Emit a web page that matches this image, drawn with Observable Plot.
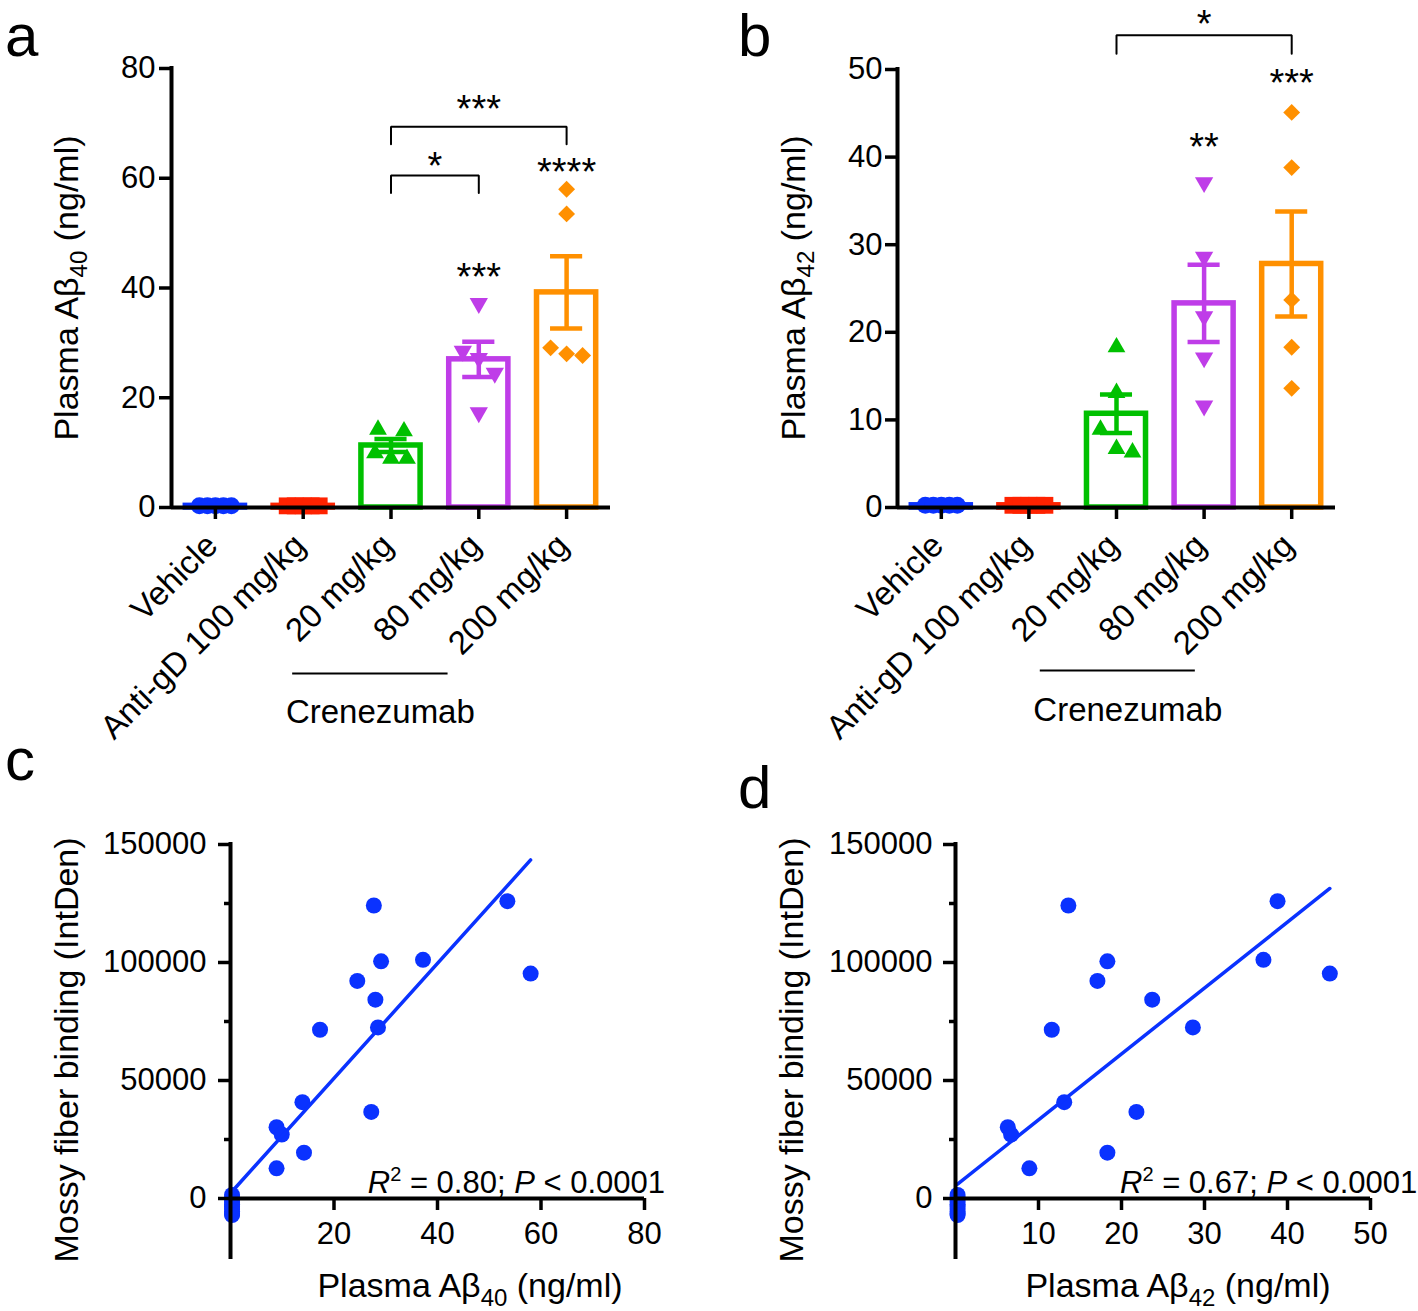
<!DOCTYPE html>
<html><head><meta charset="utf-8">
<script src="https://cdn.jsdelivr.net/npm/d3@7"></script>
<script src="https://cdn.jsdelivr.net/npm/@observablehq/plot@0.6"></script>
<style>
body{margin:0;background:#fff;}
#fig{position:relative;width:1418px;height:1311px;overflow:hidden;background:#fff;}
.panel{position:absolute;}
.panel svg{overflow:visible;max-width:none;}
</style></head><body><div id="fig"></div>
<script>
// ---------- data ----------
const groups = ["Vehicle", "Anti-gD 100 mg/kg", "20 mg/kg", "80 mg/kg", "200 mg/kg"];
const groupColors = ["#0a32ff", "#ff2200", "#00c000", "#bf3de8", "#ff9000"];
// one entry per animal
const animalGroup = [0,0,0,0,0, 1,1,1,1,1, 2,2,2,2,2, 3,3,3,3,3, 4,4,4,4,4];
const plasmaAb40 = [0.3,0.3,0.3,0.3,0.3, 0.3,0.3,0.3,0.3,0.3,
                    13.9,14.2,8.9,9.9,8.9, 37.2,28.5,27.2,24.5,17.3, 27.7,53.5,58.0,29.1,28.0];
const plasmaAb42 = [0.25,0.25,0.25,0.25,0.25, 0.25,0.25,0.25,0.25,0.25,
                    13.1,18.3,6.3,6.7,8.9, 37.1,28.6,21.8,17.1,11.6, 13.6,38.8,45.1,18.3,23.7];
const mossyBinding = [1500,-500,-2500,-4500,-6500, 500,-1500,-3500,-5500,-7000,
                      40800,19400,30200,27100,12800, 101140,72500,36700,92200,71500,
                      124150,126000,95300,100500,84250];
// group means and SEM
const meanAb40 = [0.3, 0.3, 11.3, 27.0, 39.2];
const semAb40  = [0.05, 0.05, 1.2, 3.2, 6.6];
const meanAb42 = [0.25, 0.25, 10.7, 23.3, 27.8];
const semAb42  = [0.05, 0.05, 2.2, 4.4, 6.0];
// significance
const sigTextA = ["***", "****"];   const sigGroupA = [3, 4]; const sigLevelA = [39.7, 58.7];
const sigTextB = ["**", "***"];     const sigGroupB = [3, 4]; const sigLevelB = [39.7, 47.0];
const bracketsA = [{from: 2, to: 4, level: 69.4, leg: 66.2, text: "***", textLevel: 70.3},
                   {from: 2, to: 3, level: 60.5, leg: 57.3, text: "*", textLevel: 59.8}];
const bracketsB = [{from: 2, to: 4, level: 53.9, leg: 51.8, text: "*", textLevel: 53.75}];
const r2TextC = "0.80", r2TextD = "0.67";

// ---------- helpers ----------
const FONT = "'Liberation Sans', Arial, Helvetica, sans-serif";
const triangleDown = {
  draw(context, size) {
    const s3 = Math.sqrt(3);
    const y = -Math.sqrt(size / (s3 * 3));
    context.moveTo(0, -y * 2);
    context.lineTo(-s3 * y, y);
    context.lineTo(s3 * y, y);
    context.closePath();
  }
};
const groupSymbols = ["circle", "square", "triangle", triangleDown, "diamond2"];
const groupR = [8.5, 9.5, 6.6, 6.8, 7.6];

function dodgeOffsets(values, pxPerUnit, thresholdPx = 21) {
  const idx = d3.range(values.length).sort((a, b) => values[b] - values[a]);
  const off = new Array(values.length).fill(0);
  let cluster = [idx[0]];
  const flush = () => {
    const n = cluster.length;
    if (n > 1) {
      const sp = Math.min(26, 32 / (n - 1));
      cluster.forEach((j, k) => off[j] = (k - (n - 1) / 2) * sp);
    }
  };
  for (let k = 1; k < idx.length; k++) {
    if ((values[idx[k - 1]] - values[idx[k]]) * pxPerUnit < thresholdPx) cluster.push(idx[k]);
    else { flush(); cluster = [idx[k]]; }
  }
  flush();
  return off;
}

function addRich(svg, x, y, parts, opts = {}) {
  const t = d3.select(svg).append("text")
    .attr("font-family", FONT).attr("font-size", opts.size || 34).attr("fill", "black")
    .attr("text-anchor", opts.anchor || "middle");
  if (opts.rotate) t.attr("transform", `translate(${x},${y}) rotate(${opts.rotate})`);
  else t.attr("x", x).attr("y", y);
  parts.forEach(p => {
    const s = t.append("tspan").text(p.t);
    if (p.size) s.attr("font-size", p.size);
    if (p.dy) s.attr("dy", p.dy);
    if (p.italic) s.attr("font-style", "italic");
  });
  return t;
}

function mount(svg, left, top) {
  const div = document.createElement("div");
  div.className = "panel";
  div.style.left = left + "px"; div.style.top = top + "px";
  div.appendChild(svg);
  document.getElementById("fig").appendChild(div);
}

const TICK = 12, AX = 4, TW = 3.5;

function barPanel(cfg) {
  const {left, top, W, H, ML, MR, MT, MB, yMax, yTicks, values, means, sems,
         sigText, sigGroup, sigLevel, brackets, cren, labelDx, sub, titleX, titleY, letter, letterX} = cfg;
  const frameW = W - ML - MR, frameH = H - MT - MB;
  const pxPerCat = frameW / 5, pxPerUnit = frameH / yMax;
  const bars = groups.map((g, i) => ({i, mean: means[i], sem: sems[i], color: groupColors[i]}));
  const pts = [];
  groups.forEach((g, gi) => {
    const ids = d3.range(animalGroup.length).filter(k => animalGroup[k] === gi);
    const vals = ids.map(k => values[k]);
    const off = dodgeOffsets(vals, pxPerUnit);
    ids.forEach((k, j) => pts.push({gi, v: vals[j], x: gi + off[j] / pxPerCat}));
  });
  const bracketPts = brackets.flatMap((b, bi) => [
    {b: bi, x: b.from, y: b.leg}, {b: bi, x: b.from, y: b.level},
    {b: bi, x: b.to, y: b.level}, {b: bi, x: b.to, y: b.leg}]);
  const pxY = px => -px / pxPerUnit; // offset below the x axis in data units
  const marks = [
    Plot.rect(bars, {x1: d => d.i - 0.337, x2: d => d.i + 0.337, y1: 0, y2: "mean",
      fill: "white", stroke: "color", strokeWidth: 5.5, strokeLinejoin: "miter"}),
    ...groups.map((g, gi) => Plot.dot(pts.filter(p => p.gi === gi),
      {x: "x", y: "v", symbol: groupSymbols[gi], r: groupR[gi], fill: groupColors[gi]})),
    Plot.ruleX(bars, {x: "i", y1: d => d.mean - d.sem, y2: d => d.mean + d.sem, stroke: "color", strokeWidth: 4.5}),
    Plot.ruleY(bars, {y: d => d.mean + d.sem, x1: d => d.i - 0.183, x2: d => d.i + 0.183, stroke: "color", strokeWidth: 4.5}),
    Plot.ruleY(bars, {y: d => d.mean - d.sem, x1: d => d.i - 0.183, x2: d => d.i + 0.183, stroke: "color", strokeWidth: 4.5}),
    // axes
    Plot.ruleY([0], {stroke: "black", strokeWidth: AX}),
    Plot.ruleX([-0.5], {y1: 0, y2: yMax, stroke: "black", strokeWidth: AX, strokeLinecap: "square"}),
    Plot.tickY(yTicks, {y: d => d, insetRight: frameW - TICK, dx: -TICK, stroke: "black", strokeWidth: TW}),
    Plot.tickX(d3.range(groups.length), {x: d => d, insetTop: frameH - TICK, dy: TICK, stroke: "black", strokeWidth: TW}),
    Plot.text(yTicks, {y: d => d, text: d => String(d), frameAnchor: "left", textAnchor: "end", dx: labelDx, fontSize: 31}),
    Plot.text(groups, {x: (d, i) => i, text: d => d, frameAnchor: "bottom", rotate: -45,
      textAnchor: "end", lineAnchor: "bottom", dx: 4, dy: 40, fontSize: 33}),
    // crenezumab grouping line
    Plot.ruleY([pxY(cren.px)], {x1: cren.from, x2: cren.to, stroke: "black", strokeWidth: 2}),
    Plot.text(["Crenezumab"], {x: (cren.from + cren.to) / 2, frameAnchor: "bottom", dx: 10, dy: cren.textPx, fontSize: 33, lineAnchor: "middle"}),
    // significance
    Plot.line(bracketPts, {x: "x", y: "y", z: "b", stroke: "black", strokeWidth: 2, strokeLinejoin: "miter"}),
    Plot.text(brackets, {x: d => (d.from + d.to) / 2, y: "textLevel", text: "text", fontSize: 38, lineAnchor: "bottom"}),
    Plot.text(sigText, {x: (d, i) => sigGroup[i], y: (d, i) => sigLevel[i], text: d => d, fontSize: 38, lineAnchor: "bottom"})
  ];
  const svg = Plot.plot({
    width: W, height: H, marginLeft: ML, marginRight: MR, marginTop: MT, marginBottom: MB,
    x: {domain: [-0.5, 4.5], axis: null}, y: {domain: [0, yMax], axis: null},
    color: {type: "identity"},
    style: {fontFamily: FONT, background: "transparent", overflow: "visible"},
    marks
  });
  addRich(svg, titleX - left, titleY - top,
    [{t: "Plasma A\u03b2"}, {t: sub, size: 24, dy: 9}, {t: " (ng/ml)", dy: -9}],
    {rotate: -90, size: 34});
  addRich(svg, letterX - left, 56 - top, [{t: letter}], {size: 60, anchor: "start"});
  mount(svg, left, top);
}

function scatterPanel(cfg) {
  const {left, top, W, H, ML, MR, MT, MB, xValues, xMax, xTicks, labelDx, sub,
         yTitleX, xTitleX, letter, letterX, letterY, r2, r2X, r2Anchor} = cfg;
  const frameW = W - ML - MR, frameH = H - MT - MB;
  const yMax = 150000;
  const yMajor = [0, 50000, 100000, 150000], yMinor = [25000, 75000, 125000];
  const yBottom = -25000;
  const pts = animalGroup.map((g, k) => ({x: xValues[k], y: mossyBinding[k]}));
  const blue = "#0a32ff";
  const marks = [
    Plot.dot(pts, {x: "x", y: "y", r: 8, fill: blue}),
    Plot.linearRegressionY(pts, {x: "x", y: "y", ci: 0, stroke: blue, strokeWidth: 3.5}),
    Plot.ruleX([0], {y1: yBottom, y2: yMax, stroke: "black", strokeWidth: AX, strokeLinecap: "square"}),
    Plot.ruleY([0], {x1: 0, x2: xMax, stroke: "black", strokeWidth: AX}),
    Plot.tickY(yMajor, {y: d => d, insetRight: frameW - TICK, dx: -TICK, stroke: "black", strokeWidth: TW}),
    Plot.tickY(yMinor, {y: d => d, insetRight: frameW - 6, dx: -6, stroke: "black", strokeWidth: TW}),
    Plot.tickX(xTicks, {x: d => d, insetTop: frameH - TICK, dy: TICK, stroke: "black", strokeWidth: TW}),
    Plot.text(yMajor, {y: d => d, text: d => String(d), frameAnchor: "left", textAnchor: "end", dx: labelDx, fontSize: 31}),
    Plot.text(xTicks, {x: d => d, text: d => String(d), frameAnchor: "bottom", lineAnchor: "top", dy: 23, fontSize: 31})
  ];
  const svg = Plot.plot({
    width: W, height: H, marginLeft: ML, marginRight: MR, marginTop: MT, marginBottom: MB,
    x: {domain: [0, xMax], axis: null}, y: {domain: [0, yMax], axis: null},
    style: {fontFamily: FONT, background: "transparent", overflow: "visible"},
    marks
  });
  addRich(svg, yTitleX - left, 1050 - top, [{t: "Mossy fiber binding (IntDen)"}], {rotate: -90, size: 34});
  addRich(svg, xTitleX - left, 1297 - top,
    [{t: "Plasma A\u03b2"}, {t: sub, size: 24, dy: 9}, {t: " (ng/ml)", dy: -9}], {size: 34});
  addRich(svg, r2X - left, 1193 - top,
    [{t: "R", italic: true}, {t: "2", size: 20, dy: -12}, {t: " = " + r2 + "; ", dy: 12},
     {t: "P", italic: true}, {t: " < 0.0001"}], {size: 31, anchor: r2Anchor});
  addRich(svg, letterX - left, letterY - top, [{t: letter}], {size: 60, anchor: "start"});
  mount(svg, left, top);
}

barPanel({left: 0, top: 0, W: 709, H: 730, ML: 171, MR: 99, MT: 68, MB: 223,
  yMax: 80, yTicks: [0, 20, 40, 60, 80], values: plasmaAb40, means: meanAb40, sems: semAb40,
  sigText: sigTextA, sigGroup: sigGroupA, sigLevel: sigLevelA, brackets: bracketsA,
  cren: {from: 0.88, to: 2.65, px: 166, textPx: 205}, labelDx: -16, sub: "40",
  titleX: 78, titleY: 288, letter: "a", letterX: 5});

barPanel({left: 709, top: 0, W: 709, H: 730, ML: 188, MR: 83, MT: 69, MB: 223,
  yMax: 50, yTicks: [0, 10, 20, 30, 40, 50], values: plasmaAb42, means: meanAb42, sems: semAb42,
  sigText: sigTextB, sigGroup: sigGroupB, sigLevel: sigLevelB, brackets: bracketsB,
  cren: {from: 1.13, to: 2.90, px: 163, textPx: 203}, labelDx: -15, sub: "42",
  titleX: 805, titleY: 288, letter: "b", letterX: 738});

scatterPanel({left: 0, top: 730, W: 709, H: 581, ML: 230, MR: 65, MT: 114, MB: 113,
  xValues: plasmaAb40, xMax: 80, xTicks: [20, 40, 60, 80], labelDx: -24, sub: "40",
  yTitleX: 78, xTitleX: 470, letter: "c", letterX: 5, letterY: 780,
  r2: r2TextC, r2X: 665, r2Anchor: "end"});

scatterPanel({left: 709, top: 730, W: 709, H: 581, ML: 246, MR: 48, MT: 114, MB: 113,
  xValues: plasmaAb42, xMax: 50, xTicks: [10, 20, 30, 40, 50], labelDx: -23, sub: "42",
  yTitleX: 803, xTitleX: 1178, letter: "d", letterX: 738, letterY: 808,
  r2: r2TextD, r2X: 1120, r2Anchor: "start"});
</script>
</body></html>
